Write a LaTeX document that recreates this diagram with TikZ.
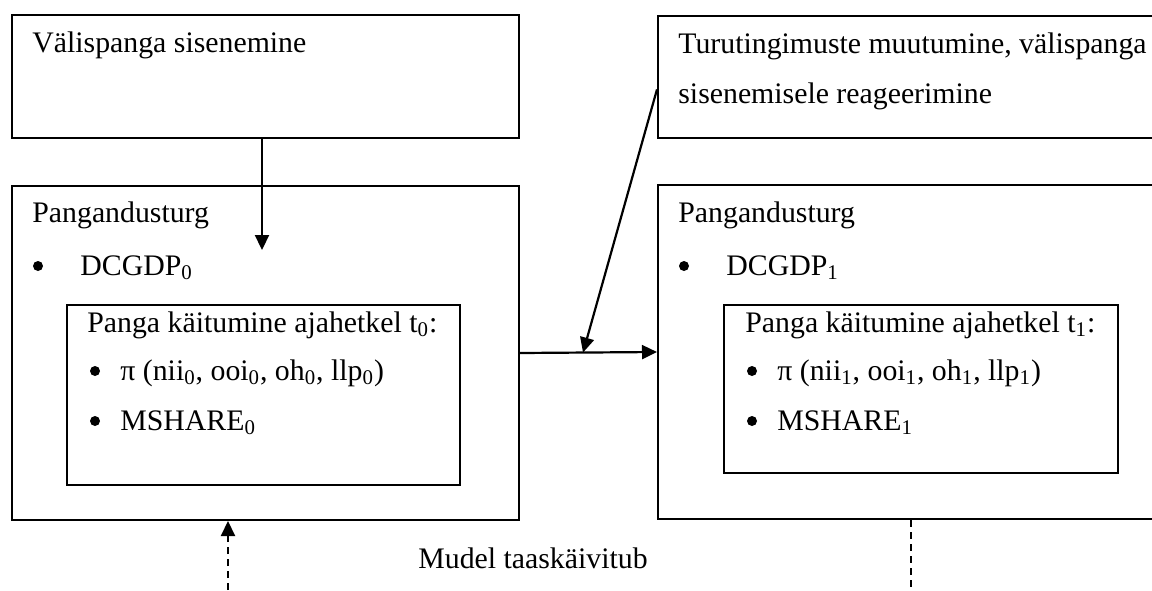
\documentclass[tikz,border=0pt]{standalone}
\usepackage{fontspec}
\setmainfont{Liberation Serif}
\usetikzlibrary{arrows.meta}
\usetikzlibrary{positioning,calc}

\tikzset{
  box/.style={draw, line width=1pt, rectangle, anchor=north west, inner sep=0pt},
  innerbox/.style={box, line width=0.8pt},
  txt/.style={anchor=base west, inner sep=0pt, font=\fontsize{14.9pt}{18pt}\selectfont},
  dot/.style={circle, fill, inner sep=0pt, minimum size=5pt, yshift=4.5pt},
  link/.style={line width=1.1pt, -{Triangle[length=7.5pt,width=7pt]}},
  loop/.style={line width=1.1pt, dash pattern=on 3.5pt off 2.5pt}
}

\begin{document}
\begin{tikzpicture}[x=0.5pt, y=-0.5pt]
  \useasboundingbox (0,0) rectangle (1152,590);

  % top row: entry and reaction
  \node[box, minimum width=253.5pt, minimum height=61.5pt] (entry) at (11,14) {};
  \node[box, minimum width=254pt, minimum height=61pt] (react) at (657,15) {};
  \node[txt] (entrytxt) at ($(entry.north west)+(21,38)$) {Välispanga sisenemine};
  \node[txt] (reacttxt) at ($(react.north west)+(21,38)$) {Turutingimuste muutumine, välispanga};
  \node[txt] (reacttxt2) at ($(reacttxt.base west)+(0,50)$) {sisenemisele reageerimine};

  % market at t0
  \node[box, minimum width=253.5pt, minimum height=167pt] (mkt0) at (11,185) {};
  \node[txt] (mkt0txt) at ($(mkt0.north west)+(21,37)$) {Pangandusturg};
  \node[dot] (mkt0b) at ($(mkt0.north west)+(27,90)$) {};
  \node[txt] (gdp0) at ($(mkt0.north west)+(69,90)$) {DCGDP\textsubscript{0}};
  \node[innerbox, minimum width=196.5pt, minimum height=90pt] (bank0) at (66,304) {};
  \node[txt] (bank0txt) at ($(bank0.north west)+(21,28)$) {Panga käitumine ajahetkel t\textsubscript{0}:};
  \node[dot] (bank0b1) at ($(bank0.north west)+(29,76)$) {};
  \node[txt] (pi0) at ($(bank0.north west)+(54,76)$) {π (nii\textsubscript{0}, ooi\textsubscript{0}, oh\textsubscript{0}, llp\textsubscript{0})};
  \node[dot] (bank0b2) at ($(bank0.north west)+(29,126)$) {};
  \node[txt] (ms0) at ($(bank0.north west)+(54,126)$) {MSHARE\textsubscript{0}};

  % market at t1
  \node[box, minimum width=254pt, minimum height=167pt] (mkt1) at (657,184) {};
  \node[txt] (mkt1txt) at ($(mkt1.north west)+(21,38)$) {Pangandusturg};
  \node[dot] (mkt1b) at ($(mkt1.north west)+(27,91)$) {};
  \node[txt] (gdp1) at ($(mkt1.north west)+(69,91)$) {DCGDP\textsubscript{1}};
  \node[innerbox, minimum width=197pt, minimum height=84pt] (bank1) at (723,304) {};
  \node[txt] (bank1txt) at ($(bank1.north west)+(22,28)$) {Panga käitumine ajahetkel t\textsubscript{1}:};
  \node[dot] (bank1b1) at ($(bank1.north west)+(29,76)$) {};
  \node[txt] (pi1) at ($(bank1.north west)+(54,76)$) {π (nii\textsubscript{1}, ooi\textsubscript{1}, oh\textsubscript{1}, llp\textsubscript{1})};
  \node[dot] (bank1b2) at ($(bank1.north west)+(29,126)$) {};
  \node[txt] (ms1) at ($(bank1.north west)+(54,126)$) {MSHARE\textsubscript{1}};

  \node[txt] (restart) at (418,568) {Mudel taaskäivitub};

  % connectors
  \coordinate (entryin) at (262,250);
  \coordinate (reactout) at ($(react.north west)!0.6!(react.south west)$);
  \coordinate (loopin) at (228,590);
  \coordinate (loopout) at (911,590);
  \draw[link] (entry.south -| entryin) -- (entryin);
  \draw[link] (mkt0.east) -- coordinate[pos=0.46] (shift) (mkt1.west);
  \draw[link] (reactout) -- (shift);
  \draw[loop] (mkt1.south -| loopout) -- (loopout);
  \draw[loop, -{Triangle[length=7.5pt,width=7pt]}] (loopin) -- (loopin |- mkt0.south);
\end{tikzpicture}
\end{document}
